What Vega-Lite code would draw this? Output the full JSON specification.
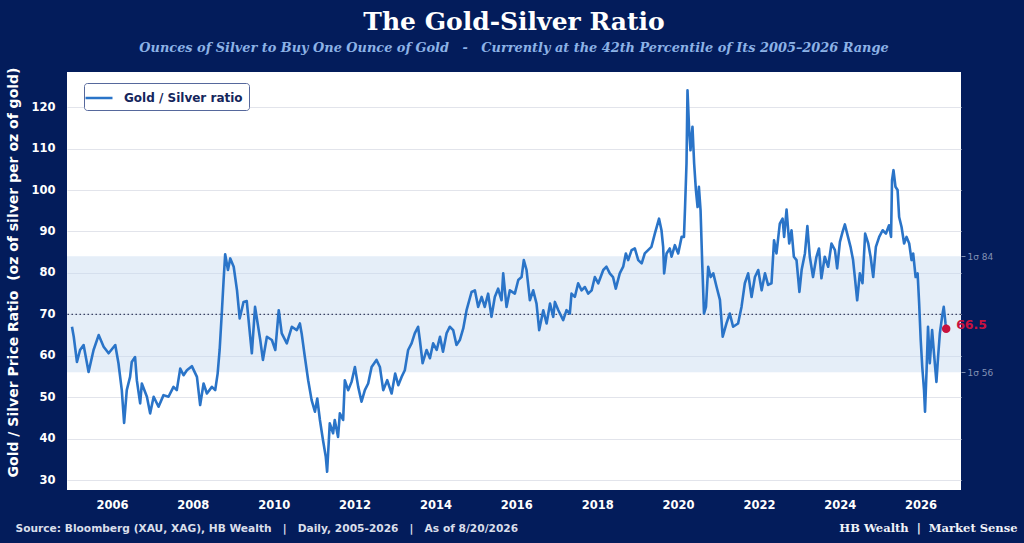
{
  "$schema": "https://vega.github.io/schema/vega-lite/v6.json",
  "width": 894,
  "height": 418,
  "autosize": "none",
  "padding": {"left": 67, "top": 72, "right": 63, "bottom": 53},
  "background": "#031c5b",
  "config": {"view": {"fill": "#ffffff", "stroke": null}, "font": "DejaVu Sans"},
  "title": {
    "text": "The Gold-Silver Ratio",
    "subtitle": "Ounces of Silver to Buy One Ounce of Gold\u00a0\u00a0\u00a0-\u00a0\u00a0\u00a0Currently at the 42th Percentile of Its 2005–2026 Range",
    "anchor": "middle",
    "frame": "group",
    "font": "DejaVu Serif",
    "fontSize": 25,
    "fontWeight": "bold",
    "color": "#ffffff",
    "subtitleFont": "DejaVu Serif",
    "subtitleFontSize": 12.9,
    "subtitleFontStyle": "italic",
    "subtitleFontWeight": "bold",
    "subtitleColor": "#8cb2e6",
    "subtitlePadding": 7,
    "offset": 12
  },
  "datasets": {
    "ratio": [
      {"date": "2005-01-04", "value": 67.0}, {"date": "2005-01-20", "value": 64.6}, {"date": "2005-02-18", "value": 58.5}, {"date": "2005-03-18", "value": 61.4}, {"date": "2005-04-19", "value": 62.6}, {"date": "2005-06-03", "value": 56.1}, {"date": "2005-07-18", "value": 61.4}, {"date": "2005-09-02", "value": 65.0}, {"date": "2005-10-17", "value": 62.2}, {"date": "2005-12-01", "value": 60.6},
      {"date": "2006-01-30", "value": 62.6}, {"date": "2006-02-28", "value": 58.2}, {"date": "2006-03-30", "value": 51.7}, {"date": "2006-04-20", "value": 43.8}, {"date": "2006-05-14", "value": 51.7}, {"date": "2006-06-13", "value": 54.9}, {"date": "2006-06-28", "value": 58.5}, {"date": "2006-07-28", "value": 59.7}, {"date": "2006-08-13", "value": 54.1}, {"date": "2006-09-12", "value": 48.5}, {"date": "2006-09-27", "value": 53.3}, {"date": "2006-11-12", "value": 50.1}, {"date": "2006-12-11", "value": 46.1},
      {"date": "2007-01-12", "value": 50.1}, {"date": "2007-02-25", "value": 47.7}, {"date": "2007-04-11", "value": 50.5}, {"date": "2007-05-26", "value": 50.1}, {"date": "2007-07-10", "value": 52.5}, {"date": "2007-08-09", "value": 51.7}, {"date": "2007-09-09", "value": 56.9}, {"date": "2007-10-09", "value": 55.3}, {"date": "2007-11-08", "value": 56.5}, {"date": "2007-12-23", "value": 57.5},
      {"date": "2008-02-07", "value": 54.9}, {"date": "2008-03-07", "value": 48.1}, {"date": "2008-04-07", "value": 53.3}, {"date": "2008-05-07", "value": 50.9}, {"date": "2008-06-21", "value": 52.5}, {"date": "2008-07-21", "value": 51.7}, {"date": "2008-08-12", "value": 55.7}, {"date": "2008-08-30", "value": 61.4}, {"date": "2008-09-20", "value": 71.0}, {"date": "2008-10-05", "value": 78.3}, {"date": "2008-10-19", "value": 84.5}, {"date": "2008-11-13", "value": 80.7}, {"date": "2008-12-04", "value": 83.5},
      {"date": "2009-01-04", "value": 81.5}, {"date": "2009-02-03", "value": 75.8}, {"date": "2009-02-27", "value": 69.0}, {"date": "2009-04-03", "value": 73.0}, {"date": "2009-05-02", "value": 73.2}, {"date": "2009-06-02", "value": 64.6}, {"date": "2009-06-17", "value": 60.6}, {"date": "2009-07-16", "value": 71.8}, {"date": "2009-09-01", "value": 63.8}, {"date": "2009-09-25", "value": 59.0}, {"date": "2009-10-31", "value": 64.6}, {"date": "2009-12-15", "value": 63.8},
      {"date": "2010-01-15", "value": 61.4}, {"date": "2010-02-15", "value": 71.0}, {"date": "2010-03-14", "value": 65.4}, {"date": "2010-04-29", "value": 63.0}, {"date": "2010-06-13", "value": 67.0}, {"date": "2010-07-28", "value": 66.2}, {"date": "2010-08-25", "value": 67.8}, {"date": "2010-09-10", "value": 65.4}, {"date": "2010-10-09", "value": 59.7}, {"date": "2010-11-08", "value": 54.1}, {"date": "2010-12-09", "value": 49.3},
      {"date": "2011-01-08", "value": 46.5}, {"date": "2011-01-29", "value": 49.7}, {"date": "2011-02-22", "value": 44.5}, {"date": "2011-03-22", "value": 39.6}, {"date": "2011-04-16", "value": 35.6}, {"date": "2011-04-28", "value": 32.0}, {"date": "2011-05-22", "value": 43.7}, {"date": "2011-06-21", "value": 41.3}, {"date": "2011-07-06", "value": 44.5}, {"date": "2011-08-05", "value": 40.4}, {"date": "2011-08-21", "value": 46.1}, {"date": "2011-09-20", "value": 44.5}, {"date": "2011-10-05", "value": 54.1}, {"date": "2011-11-04", "value": 51.7}, {"date": "2011-12-05", "value": 53.7},
      {"date": "2012-01-04", "value": 57.3}, {"date": "2012-02-03", "value": 52.5}, {"date": "2012-03-04", "value": 48.9}, {"date": "2012-04-03", "value": 51.7}, {"date": "2012-05-03", "value": 53.3}, {"date": "2012-06-03", "value": 57.3}, {"date": "2012-07-17", "value": 59.0}, {"date": "2012-08-17", "value": 57.3}, {"date": "2012-09-16", "value": 51.7}, {"date": "2012-10-22", "value": 54.1}, {"date": "2012-12-01", "value": 50.9},
      {"date": "2013-01-02", "value": 55.7}, {"date": "2013-01-30", "value": 52.9}, {"date": "2013-03-01", "value": 54.9}, {"date": "2013-03-30", "value": 56.5}, {"date": "2013-04-29", "value": 61.4}, {"date": "2013-05-30", "value": 63.0}, {"date": "2013-06-28", "value": 65.4}, {"date": "2013-07-28", "value": 67.0}, {"date": "2013-08-13", "value": 63.8}, {"date": "2013-09-07", "value": 58.2}, {"date": "2013-10-13", "value": 61.4}, {"date": "2013-11-12", "value": 59.4}, {"date": "2013-12-11", "value": 63.0},
      {"date": "2014-01-12", "value": 61.4}, {"date": "2014-02-11", "value": 64.6}, {"date": "2014-03-10", "value": 61.0}, {"date": "2014-04-11", "value": 65.4}, {"date": "2014-05-10", "value": 67.0}, {"date": "2014-06-10", "value": 66.2}, {"date": "2014-07-10", "value": 62.6}, {"date": "2014-08-09", "value": 63.8}, {"date": "2014-09-09", "value": 66.6}, {"date": "2014-10-09", "value": 71.0}, {"date": "2014-11-23", "value": 75.4}, {"date": "2014-12-23", "value": 75.8},
      {"date": "2015-01-22", "value": 71.8}, {"date": "2015-02-22", "value": 74.2}, {"date": "2015-03-22", "value": 71.8}, {"date": "2015-04-22", "value": 75.0}, {"date": "2015-05-22", "value": 69.4}, {"date": "2015-06-21", "value": 74.2}, {"date": "2015-07-21", "value": 76.2}, {"date": "2015-08-21", "value": 73.4}, {"date": "2015-09-05", "value": 79.9}, {"date": "2015-10-05", "value": 71.8}, {"date": "2015-11-04", "value": 75.8}, {"date": "2015-12-19", "value": 75.0},
      {"date": "2016-01-19", "value": 78.3}, {"date": "2016-02-18", "value": 79.0}, {"date": "2016-03-09", "value": 83.1}, {"date": "2016-04-03", "value": 80.7}, {"date": "2016-05-03", "value": 73.4}, {"date": "2016-06-02", "value": 75.8}, {"date": "2016-07-02", "value": 72.6}, {"date": "2016-07-26", "value": 66.2}, {"date": "2016-09-01", "value": 71.0}, {"date": "2016-10-01", "value": 67.8}, {"date": "2016-11-01", "value": 72.6}, {"date": "2016-11-30", "value": 69.4}, {"date": "2016-12-15", "value": 73.0},
      {"date": "2017-01-15", "value": 71.0}, {"date": "2017-02-28", "value": 68.6}, {"date": "2017-03-30", "value": 71.0}, {"date": "2017-04-29", "value": 70.2}, {"date": "2017-05-14", "value": 75.0}, {"date": "2017-06-13", "value": 74.2}, {"date": "2017-07-13", "value": 77.5}, {"date": "2017-08-13", "value": 75.8}, {"date": "2017-09-12", "value": 76.6}, {"date": "2017-10-12", "value": 75.0}, {"date": "2017-11-12", "value": 75.8}, {"date": "2017-12-11", "value": 79.0},
      {"date": "2018-01-11", "value": 77.5}, {"date": "2018-02-25", "value": 80.7}, {"date": "2018-03-26", "value": 81.5}, {"date": "2018-04-25", "value": 79.9}, {"date": "2018-05-24", "value": 79.0}, {"date": "2018-06-18", "value": 76.2}, {"date": "2018-07-24", "value": 79.9}, {"date": "2018-08-24", "value": 81.5}, {"date": "2018-09-17", "value": 84.7}, {"date": "2018-10-08", "value": 83.1}, {"date": "2018-11-08", "value": 85.5}, {"date": "2018-12-07", "value": 85.9},
      {"date": "2019-01-07", "value": 83.1}, {"date": "2019-02-07", "value": 82.3}, {"date": "2019-03-07", "value": 84.7}, {"date": "2019-04-06", "value": 85.5}, {"date": "2019-05-06", "value": 86.3}, {"date": "2019-06-06", "value": 89.5}, {"date": "2019-07-14", "value": 93.1}, {"date": "2019-08-05", "value": 90.3}, {"date": "2019-08-20", "value": 86.3}, {"date": "2019-08-29", "value": 79.9}, {"date": "2019-09-20", "value": 84.7}, {"date": "2019-10-19", "value": 85.9}, {"date": "2019-11-04", "value": 83.9}, {"date": "2019-12-04", "value": 86.7},
      {"date": "2020-01-03", "value": 84.7}, {"date": "2020-02-03", "value": 88.7}, {"date": "2020-02-24", "value": 88.7}, {"date": "2020-03-05", "value": 95.9}, {"date": "2020-03-18", "value": 106.4}, {"date": "2020-03-27", "value": 124.1}, {"date": "2020-04-11", "value": 114.4}, {"date": "2020-04-23", "value": 109.6}, {"date": "2020-05-11", "value": 115.3}, {"date": "2020-05-26", "value": 106.4}, {"date": "2020-06-11", "value": 100.0}, {"date": "2020-06-26", "value": 95.9}, {"date": "2020-07-08", "value": 100.8}, {"date": "2020-07-23", "value": 95.1}, {"date": "2020-08-07", "value": 82.3}, {"date": "2020-08-23", "value": 70.2}, {"date": "2020-09-10", "value": 71.8}, {"date": "2020-09-30", "value": 81.5}, {"date": "2020-10-22", "value": 79.0}, {"date": "2020-11-15", "value": 79.9}, {"date": "2020-12-15", "value": 76.6},
      {"date": "2021-01-14", "value": 73.5}, {"date": "2021-02-08", "value": 64.6}, {"date": "2021-03-14", "value": 67.8}, {"date": "2021-04-13", "value": 70.2}, {"date": "2021-05-13", "value": 67.0}, {"date": "2021-06-27", "value": 67.8}, {"date": "2021-07-28", "value": 71.8}, {"date": "2021-08-27", "value": 77.5}, {"date": "2021-09-26", "value": 79.9}, {"date": "2021-10-27", "value": 74.2}, {"date": "2021-11-26", "value": 79.0}, {"date": "2021-12-26", "value": 80.7},
      {"date": "2022-01-26", "value": 75.8}, {"date": "2022-02-25", "value": 79.9}, {"date": "2022-03-25", "value": 77.1}, {"date": "2022-04-25", "value": 77.5}, {"date": "2022-05-18", "value": 87.9}, {"date": "2022-06-09", "value": 84.7}, {"date": "2022-07-09", "value": 91.9}, {"date": "2022-08-03", "value": 93.1}, {"date": "2022-08-17", "value": 88.7}, {"date": "2022-09-08", "value": 95.3}, {"date": "2022-10-02", "value": 87.1}, {"date": "2022-10-23", "value": 90.3}, {"date": "2022-11-13", "value": 83.9}, {"date": "2022-12-07", "value": 83.1},
      {"date": "2023-01-02", "value": 75.4}, {"date": "2023-01-22", "value": 80.7}, {"date": "2023-02-21", "value": 84.7}, {"date": "2023-03-15", "value": 91.3}, {"date": "2023-04-06", "value": 83.9}, {"date": "2023-05-05", "value": 79.0}, {"date": "2023-06-05", "value": 83.9}, {"date": "2023-06-28", "value": 85.9}, {"date": "2023-07-20", "value": 78.7}, {"date": "2023-08-19", "value": 83.9}, {"date": "2023-09-19", "value": 81.5}, {"date": "2023-10-19", "value": 87.1}, {"date": "2023-11-19", "value": 85.5}, {"date": "2023-12-09", "value": 81.1},
      {"date": "2024-01-03", "value": 87.5}, {"date": "2024-01-27", "value": 89.9}, {"date": "2024-02-17", "value": 91.7}, {"date": "2024-03-16", "value": 88.7}, {"date": "2024-04-08", "value": 86.3}, {"date": "2024-05-01", "value": 83.1}, {"date": "2024-05-17", "value": 79.0}, {"date": "2024-06-07", "value": 73.4}, {"date": "2024-07-01", "value": 79.9}, {"date": "2024-07-25", "value": 77.5}, {"date": "2024-08-18", "value": 89.5}, {"date": "2024-09-15", "value": 87.1}, {"date": "2024-10-06", "value": 83.9}, {"date": "2024-10-30", "value": 79.0}, {"date": "2024-11-23", "value": 86.3}, {"date": "2024-12-23", "value": 88.7},
      {"date": "2025-01-23", "value": 90.3}, {"date": "2025-02-22", "value": 89.5}, {"date": "2025-03-22", "value": 91.5}, {"date": "2025-04-09", "value": 88.7}, {"date": "2025-04-18", "value": 102.4}, {"date": "2025-05-01", "value": 104.8}, {"date": "2025-05-19", "value": 100.8}, {"date": "2025-06-07", "value": 100.0}, {"date": "2025-06-21", "value": 93.5}, {"date": "2025-07-13", "value": 91.1}, {"date": "2025-08-05", "value": 87.1}, {"date": "2025-08-27", "value": 88.7}, {"date": "2025-09-20", "value": 87.1}, {"date": "2025-10-11", "value": 83.1}, {"date": "2025-10-26", "value": 84.7}, {"date": "2025-11-17", "value": 79.0}, {"date": "2025-12-05", "value": 79.9}, {"date": "2025-12-19", "value": 72.6},
      {"date": "2026-01-02", "value": 63.8}, {"date": "2026-01-16", "value": 57.3}, {"date": "2026-02-01", "value": 51.7}, {"date": "2026-02-10", "value": 46.5}, {"date": "2026-02-25", "value": 57.3}, {"date": "2026-03-09", "value": 67.0}, {"date": "2026-03-25", "value": 58.2}, {"date": "2026-04-15", "value": 66.2}, {"date": "2026-05-02", "value": 60.6}, {"date": "2026-05-24", "value": 53.7}, {"date": "2026-06-08", "value": 59.7}, {"date": "2026-06-24", "value": 65.4}, {"date": "2026-07-14", "value": 69.4}, {"date": "2026-07-29", "value": 71.8}, {"date": "2026-08-08", "value": 69.4}, {"date": "2026-08-14", "value": 67.8}, {"date": "2026-08-20", "value": 66.5}
    ],
    "band": [{"lo": 56, "hi": 84, "mean": 70}],
    "last": [{"date": "2026-08-20", "value": 66.5, "label": "66.5"}]
  },
  "resolve": {"axis": {"x": "independent", "y": "independent"}},
  "layer": [
    {
      "data": {"name": "band"},
      "mark": {"type": "rect", "color": "#c5d9f0", "opacity": 0.45},
      "encoding": {
        "y": {
          "field": "lo", "type": "quantitative",
          "scale": {"domain": [27.6, 128.5], "nice": false, "zero": false},
          "axis": {
            "orient": "right", "values": [56, 84],
            "labelExpr": "datum.value == 84 ? '1σ 84' : '1σ 56'",
            "grid": false, "domain": false, "ticks": true, "tickSize": 4, "tickColor": "#7c8cb0", "tickWidth": 1,
            "labelPadding": 2, "labelColor": "#8393b5", "labelFont": "DejaVu Sans", "labelFontSize": 9, "title": null
          }
        },
        "y2": {"field": "hi"}
      }
    },
    {
      "data": {"name": "band"},
      "mark": {"type": "rule", "color": "#3a4262", "strokeWidth": 1.3, "strokeDash": [1.5, 2.5]},
      "encoding": {"y": {"field": "mean", "type": "quantitative", "axis": null}}
    },
    {
      "data": {"name": "ratio"},
      "mark": {"type": "line", "strokeWidth": 2.6, "strokeJoin": "round"},
      "encoding": {
        "x": {
          "field": "date", "type": "temporal",
          "scale": {"domain": [{"year": 2004, "month": 11, "date": 20}, {"year": 2027, "month": 1, "date": 1}]},
          "axis": {
            "orient": "bottom",
            "values": [{"year": 2006, "month": 1, "date": 1}, {"year": 2008, "month": 1, "date": 1}, {"year": 2010, "month": 1, "date": 1}, {"year": 2012, "month": 1, "date": 1}, {"year": 2014, "month": 1, "date": 1}, {"year": 2016, "month": 1, "date": 1}, {"year": 2018, "month": 1, "date": 1}, {"year": 2020, "month": 1, "date": 1}, {"year": 2022, "month": 1, "date": 1}, {"year": 2024, "month": 1, "date": 1}, {"year": 2026, "month": 1, "date": 1}],
            "format": "%Y", "grid": false, "domain": false, "ticks": false, "tickSize": 0,
            "labelPadding": 9, "labelColor": "#ffffff", "labelFont": "DejaVu Sans", "labelFontWeight": "bold", "labelFontSize": 11.5,
            "title": "Source: Bloomberg (XAU, XAG), HB Wealth\u00a0\u00a0\u00a0|\u00a0\u00a0\u00a0Daily, 2005-2026\u00a0\u00a0\u00a0|\u00a0\u00a0\u00a0As of 8/20/2026",
            "titleX": -52, "titleY": 38, "titleAlign": "left", "titleBaseline": "middle", "titleAnchor": null,
            "titleColor": "#d9deea", "titleFont": "DejaVu Sans", "titleFontSize": 10.65, "titleFontWeight": "bold"
          }
        },
        "y": {
          "field": "value", "type": "quantitative",
          "axis": {
            "orient": "left", "values": [30, 40, 50, 60, 70, 80, 90, 100, 110, 120],
            "grid": true, "gridColor": "#e2e4eb", "gridWidth": 1, "domain": false, "ticks": false, "tickSize": 0,
            "labelPadding": 12, "labelColor": "#ffffff", "labelFont": "DejaVu Sans", "labelFontWeight": "bold", "labelFontSize": 11.5,
            "title": "Gold / Silver Price Ratio\u00a0\u00a0(oz of silver per oz of gold)",
            "titleX": -54, "titleY": 200, "titleAngle": 270, "titleBaseline": "middle", "titleAlign": "center",
            "titleColor": "#ffffff", "titleFont": "DejaVu Sans", "titleFontSize": 14, "titleFontWeight": "bold"
          }
        },
        "color": {
          "datum": "Gold / Silver ratio", "type": "nominal",
          "scale": {"range": ["#2a74c8"]},
          "legend": {
            "title": null, "orient": "none", "legendX": 17, "legendY": 11,
            "fillColor": "#ffffff", "strokeColor": "#56689c", "cornerRadius": 3, "padding": 6,
            "symbolType": "M-1.8,0L1.8,0", "symbolSize": 225, "symbolStrokeWidth": 2.5, "symbolStrokeColor": "#2a74c8", "symbolFillColor": "transparent",
            "labelFont": "DejaVu Sans", "labelFontWeight": "bold", "labelFontSize": 12, "labelColor": "#15265c", "labelOffset": 16
          }
        }
      }
    },
    {
      "data": {"name": "last"},
      "mark": {"type": "point", "filled": true, "size": 72, "color": "#c8123f", "opacity": 1},
      "encoding": {
        "x": {
          "field": "date", "type": "temporal",
          "axis": {
            "orient": "bottom", "labels": false, "ticks": false, "domain": false, "grid": false,
            "title": "HB Wealth\u00a0\u00a0|\u00a0\u00a0Market Sense",
            "titleX": 950, "titleY": 38, "titleAlign": "right", "titleBaseline": "middle", "titleAnchor": null,
            "titleColor": "#f0f2f8", "titleFont": "DejaVu Serif", "titleFontSize": 11.5, "titleFontWeight": "bold"
          }
        },
        "y": {"field": "value", "type": "quantitative", "axis": null}
      }
    },
    {
      "data": {"name": "last"},
      "mark": {"type": "text", "align": "left", "baseline": "middle", "dx": 10, "dy": -4, "font": "DejaVu Sans", "fontWeight": "bold", "fontSize": 12.5, "color": "#c8123f"},
      "encoding": {
        "x": {"field": "date", "type": "temporal", "axis": null},
        "y": {"field": "value", "type": "quantitative", "axis": null},
        "text": {"field": "label"}
      }
    }
  ]
}
